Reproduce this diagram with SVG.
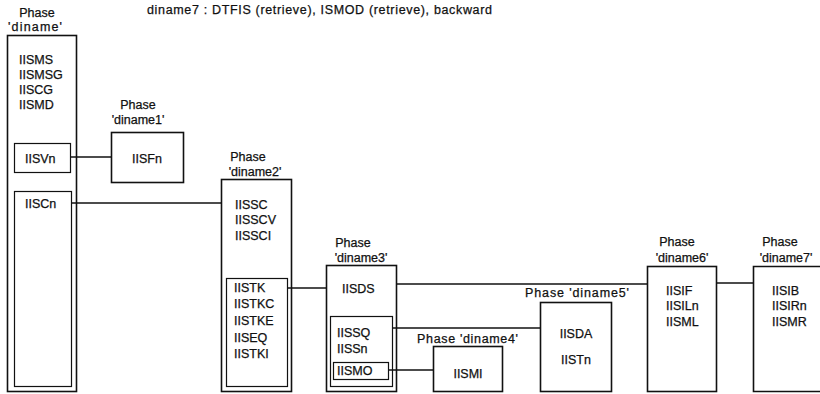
<svg xmlns="http://www.w3.org/2000/svg" width="820" height="394" viewBox="0 0 820 394">
<style>
text{font-family:"Liberation Sans",Arial,sans-serif;font-size:12.5px;fill:#111;stroke:#111;stroke-width:0.25}
.c{text-anchor:middle}
.b{fill:none;stroke:#111;stroke-width:1.6}
.i{fill:none;stroke:#111;stroke-width:1.2}
.l{fill:none;stroke:#111;stroke-width:1.5}
</style>
<rect width="820" height="394" fill="#fff"/>
<text id="title" x="147" y="14" textLength="345" lengthAdjust="spacing">diname7 :  DTFIS (retrieve),  ISMOD (retrieve),  backward</text>

<g id="diname">
<text class="c" x="37" y="17">Phase</text>
<text x="8" y="31" textLength="54" lengthAdjust="spacing">'diname'</text>
<rect class="b" x="7.5" y="35.5" width="69" height="356"/>
<text x="19" y="64">IISMS</text>
<text x="19" y="79">IISMSG</text>
<text x="19" y="94">IISCG</text>
<text x="19" y="109">IISMD</text>
<g id="IISVn"><rect class="i" x="14.5" y="143.5" width="56" height="29"/><text x="25" y="163">IISVn</text></g>
<g id="IISCn"><rect class="i" x="14.5" y="191.5" width="57" height="195"/><text x="25" y="208">IISCn</text></g>
</g>

<g id="diname1">
<text class="c" x="138" y="109">Phase</text>
<text class="c" x="138" y="124">'diname1'</text>
<rect class="b" x="111.5" y="132.5" width="72" height="50"/>
<text class="c" x="147" y="163">IISFn</text>
</g>

<g id="diname2">
<text class="c" x="248" y="161">Phase</text>
<text class="c" x="255" y="176">'diname2'</text>
<rect class="b" x="221.5" y="179.5" width="70" height="212"/>
<text x="235" y="209">IISSC</text>
<text x="235" y="224">IISSCV</text>
<text x="235" y="240">IISSCI</text>
<g id="IISTK"><rect class="i" x="226.5" y="278.5" width="61" height="108"/>
<text x="234" y="292">IISTK</text>
<text x="234" y="308">IISTKC</text>
<text x="234" y="325">IISTKE</text>
<text x="234" y="342">IISEQ</text>
<text x="234" y="358">IISTKI</text></g>
</g>

<g id="diname3">
<text class="c" x="353" y="247">Phase</text>
<text class="c" x="361" y="262">'diname3'</text>
<rect class="b" x="326.5" y="265.5" width="70" height="126"/>
<text x="342" y="293">IISDS</text>
<g id="IISSQ"><rect class="i" x="330.5" y="316.5" width="62" height="70"/>
<text x="337" y="337">IISSQ</text>
<text x="337" y="353">IISSn</text></g>
<g id="IISMO"><rect class="i" x="333.5" y="362.5" width="55" height="17"/>
<text x="337" y="375">IISMO</text></g>
</g>

<g id="diname4">
<text x="417" y="343" textLength="101" lengthAdjust="spacing">Phase 'diname4'</text>
<rect class="b" x="433.5" y="346.5" width="69" height="45"/>
<text class="c" x="468" y="378">IISMI</text>
</g>

<g id="diname5">
<text x="525" y="297" textLength="104" lengthAdjust="spacing">Phase 'diname5'</text>
<rect class="b" x="540.5" y="302.5" width="71" height="89"/>
<text class="c" x="576" y="338">IISDA</text>
<text class="c" x="576" y="364">IISTn</text>
</g>

<g id="diname6">
<text class="c" x="677" y="246">Phase</text>
<text class="c" x="682" y="262">'diname6'</text>
<rect class="b" x="647.5" y="266.5" width="69" height="125"/>
<text x="666" y="295">IISIF</text>
<text x="666" y="310">IISILn</text>
<text x="666" y="326">IISML</text>
</g>

<g id="diname7">
<text class="c" x="780" y="246">Phase</text>
<text class="c" x="786" y="262">'diname7'</text>
<path class="b" d="M822,266.5 H753.5 V391.5 H822"/>
<text x="772" y="295">IISIB</text>
<text x="772" y="310">IISIRn</text>
<text x="772" y="326">IISMR</text>
</g>

<g id="connectors">
<line class="l" x1="71" y1="157" x2="111" y2="157"/>
<line class="l" x1="72" y1="203" x2="221" y2="203"/>
<line class="l" x1="288" y1="288" x2="326" y2="288"/>
<line class="l" x1="397" y1="284" x2="647" y2="284"/>
<line class="l" x1="393" y1="328" x2="540" y2="328"/>
<line class="l" x1="389" y1="370" x2="433" y2="370"/>
<line class="l" x1="717" y1="283" x2="753" y2="283"/>
</g>
</svg>
